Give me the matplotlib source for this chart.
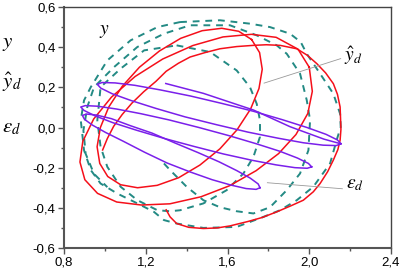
import matplotlib
matplotlib.use("Agg")
import matplotlib.pyplot as plt

plt.rcParams['font.family'] = ['Liberation Sans', 'DejaVu Sans']
plt.rcParams['mathtext.fontset'] = 'stix'

# tick positions / labels (comma decimal)
x_ticks = [0.8, 1.2, 1.6, 2.0, 2.4]
x_labels = ['0,8', '1,2', '1,6', '2,0', '2,4']
y_ticks = [-0.6, -0.4, -0.2, 0.0, 0.2, 0.4, 0.6]
y_labels = ['-0,6', '-0,4', '-0,2', '0,0', '0,2', '0,4', '0,6']

# y (red), three loops
red_x1 = [1.718, 1.655, 1.572, 1.476, 1.371, 1.267, 1.169, 1.085, 1.019, 0.978, 0.962, 0.975,
          1.014, 1.077, 1.160, 1.256, 1.361, 1.465, 1.563, 1.647, 1.713, 1.754, 1.770, 1.757, 1.718]
red_y1 = [0.438, 0.479, 0.494, 0.482, 0.444, 0.381, 0.300, 0.205, 0.102, 0.000, -0.096, -0.179,
          -0.244, -0.285, -0.300, -0.288, -0.250, -0.187, -0.106, -0.011, 0.092, 0.194, 0.290, 0.373, 0.438]
red_x2 = [2.000, 1.945, 1.838, 1.717, 1.578, 1.430, 1.283, 1.148, 1.032, 0.945, 0.892, 0.878,
          0.902, 0.964, 1.058, 1.179, 1.318, 1.470, 1.610, 1.740, 1.850, 1.935, 1.993, 2.015, 2.000]
red_y2 = [0.300, 0.390, 0.449, 0.464, 0.451, 0.408, 0.341, 0.254, 0.151, 0.042, -0.069, -0.172,
          -0.260, -0.328, -0.371, -0.386, -0.380, -0.345, -0.290, -0.215, -0.130, -0.035, 0.070, 0.180, 0.300]
red_x3 = [1.300, 1.319, 1.351, 1.410, 1.482, 1.550, 1.612, 1.700, 1.770, 1.841, 1.910, 1.971,
          2.020, 2.053, 2.090, 2.118, 2.140, 2.151, 2.155, 2.153, 2.151, 2.138, 2.118, 2.080,
          2.037, 1.990, 1.939, 1.857, 1.790, 1.727, 1.645, 1.563, 1.490, 1.417, 1.360, 1.300,
          1.250, 1.190, 1.132, 1.085, 1.043, 1.012, 0.989]
red_y3 = [-0.410, -0.445, -0.478, -0.497, -0.503, -0.500, -0.490, -0.468, -0.448, -0.420, -0.390, -0.362,
          -0.320, -0.279, -0.220, -0.162, -0.110, -0.063, -0.010, 0.050, 0.102, 0.165, 0.218, 0.272,
          0.318, 0.360, 0.392, 0.409, 0.412, 0.409, 0.403, 0.392, 0.373, 0.351, 0.320, 0.280,
          0.230, 0.178, 0.121, 0.065, 0.006, -0.055, -0.112]

# y_hat_d (teal dashed)
teal_x1 = [1.351, 1.515, 1.645, 1.710, 1.743, 1.759, 1.759, 1.727, 1.678, 1.596, 1.482, 1.368,
           1.319, 1.257, 1.159, 1.077, 1.012, 0.979, 0.963, 0.979, 1.077, 1.192, 1.351]
teal_y1 = [0.409, 0.376, 0.284, 0.201, 0.118, 0.035, -0.046, -0.146, -0.229, -0.312, -0.378, -0.412,
           -0.417, -0.412, -0.362, -0.295, -0.196, -0.096, 0.035, 0.201, 0.293, 0.384, 0.409]
teal_x2 = [1.289, 1.319, 1.400, 1.482, 1.563, 1.645, 1.727, 1.808, 1.890, 1.955, 1.996, 2.004,
           1.988, 1.955, 1.890, 1.841, 1.743, 1.612, 1.417, 1.289, 1.159, 1.045, 0.947, 0.914,
           0.895, 0.906, 0.947, 1.012]
teal_y2 = [-0.179, -0.212, -0.295, -0.362, -0.397, -0.417, -0.428, -0.397, -0.312, -0.229, -0.113, 0.037,
           0.135, 0.268, 0.367, 0.409, 0.459, 0.509, 0.509, 0.467, 0.401, 0.301, 0.201, 0.102,
           -0.015, -0.131, -0.231, -0.297]
teal_x3 = [1.368, 1.563, 1.710, 1.808, 1.906, 1.958, 1.988, 2.053, 2.118, 2.151, 2.154, 2.134,
           2.102, 2.020, 1.939, 1.857, 1.776, 1.645, 1.482, 1.351, 1.289, 1.240, 1.159, 1.061,
           0.979, 0.931, 0.898, 0.882, 0.898, 0.931, 1.012, 1.126, 1.257, 1.368]
teal_y3 = [0.525, 0.534, 0.517, 0.500, 0.467, 0.426, 0.367, 0.268, 0.168, 0.068, 0.002, -0.063,
           -0.179, -0.295, -0.362, -0.412, -0.445, -0.495, -0.500, -0.478, -0.461, -0.420, -0.378, -0.329,
           -0.279, -0.212, -0.113, 0.037, 0.135, 0.201, 0.334, 0.434, 0.500, 0.525]

# eps_d (purple)
purp_x0 = [1.298, 1.482, 1.727, 1.906, 2.072, 2.154]
purp_y0 = [0.219, 0.170, 0.087, 0.004, -0.058, -0.081]
purp_x1 = [2.155, 2.138, 2.082, 1.989, 1.868, 1.726, 1.572, 1.418, 1.272, 1.147, 1.050, 0.986,
           0.963, 0.980, 1.036, 1.129, 1.250, 1.392, 1.546, 1.700, 1.846, 1.971, 2.068, 2.132, 2.155]
purp_y1 = [-0.081, -0.062, -0.034, 0.000, 0.039, 0.081, 0.120, 0.157, 0.187, 0.210, 0.222, 0.224,
           0.215, 0.196, 0.168, 0.134, 0.095, 0.053, 0.014, -0.023, -0.053, -0.076, -0.088, -0.090, -0.081]
purp_x2 = [2.012, 1.996, 1.942, 1.855, 1.741, 1.605, 1.460, 1.313, 1.175, 1.057, 0.964, 0.904,
           0.882, 0.898, 0.952, 1.039, 1.153, 1.289, 1.435, 1.581, 1.719, 1.837, 1.930, 1.990, 2.012]
purp_y2 = [-0.196, -0.179, -0.152, -0.118, -0.081, -0.040, 0.000, 0.038, 0.069, 0.092, 0.106, 0.109,
           0.102, 0.085, 0.058, 0.024, -0.013, -0.054, -0.094, -0.132, -0.163, -0.186, -0.200, -0.203, -0.196]
purp_x3 = [1.759, 1.750, 1.711, 1.646, 1.559, 1.456, 1.345, 1.231, 1.125, 1.032, 0.959, 0.910,
           0.890, 0.900, 0.939, 1.004, 1.091, 1.194, 1.305, 1.419, 1.525, 1.618, 1.691, 1.740, 1.759]
purp_y3 = [-0.300, -0.281, -0.252, -0.215, -0.171, -0.125, -0.078, -0.028, 0.009, 0.044, 0.062, 0.067,
           0.060, 0.041, 0.012, -0.025, -0.069, -0.123, -0.177, -0.222, -0.260, -0.287, -0.304, -0.308, -0.300]

RED = '#f50f1a'
TEAL = '#238a84'
PURPLE = '#7a1fea'

fig = plt.figure(figsize=(4.01, 2.69), dpi=100)
ax = fig.add_axes([64 / 401, 21 / 269, 327 / 401, 241 / 269])

for xs, ys in [(teal_x1, teal_y1), (teal_x2, teal_y2), (teal_x3, teal_y3)]:
    ax.plot(xs, ys, color=TEAL, lw=1.4, dashes=(3.5, 3))
for xs, ys in [(red_x1, red_y1), (red_x2, red_y2), (red_x3, red_y3)]:
    ax.plot(xs, ys, color=RED, lw=1.1)
for xs, ys in [(purp_x0, purp_y0), (purp_x1, purp_y1), (purp_x2, purp_y2), (purp_x3, purp_y3)]:
    ax.plot(xs, ys, color=PURPLE, lw=1.1)

# pointer lines + labels inside
ax.plot([1.779, 2.154], [0.221, 0.343], color='#999999', lw=0.6)
ax.plot([1.795, 2.162], [-0.275, -0.305], color='#999999', lw=0.6)
ax.text(0.971, 0.466, '$y$', fontsize=14, ha='left', va='baseline')
ax.text(2.170, 0.331, r'$\hat{y}_d$', fontsize=14, ha='left', va='baseline')
ax.text(2.180, -0.301, r'$\varepsilon_d$', fontsize=14, ha='left', va='baseline')

# labels on the left
fig.text(2 / 401, 1 - 47 / 269, '$y$', fontsize=15, ha='left', va='baseline')
fig.text(2 / 401, 1 - 88 / 269, r'$\hat{y}_d$', fontsize=15, ha='left', va='baseline')
fig.text(2 / 401, 1 - 132 / 269, r'$\varepsilon_d$', fontsize=15, ha='left', va='baseline')

ax.set_xlim(0.8, 2.4)
ax.set_ylim(-0.6, 0.6)
ax.set_xticks(x_ticks)
ax.set_xticklabels(x_labels)
ax.set_yticks(y_ticks)
ax.set_yticklabels(y_labels)
ax.set_xticks([1.0, 1.4, 1.8, 2.2], minor=True)
ax.set_yticks([-0.5, -0.3, -0.1, 0.1, 0.3, 0.5], minor=True)
ax.tick_params(which='major', direction='out', length=4, width=1, color='#555555',
               labelsize=9.5, pad=2)
ax.tick_params(which='minor', direction='out', length=2.2, width=1, color='#555555')
for side in ['left', 'bottom']:
    ax.spines[side].set_linewidth(1.5)
    ax.spines[side].set_color('#555555')
for side in ['top', 'right']:
    ax.spines[side].set_linewidth(1.0)
    ax.spines[side].set_color('#444444')

fig.savefig('out.png', dpi=100)
